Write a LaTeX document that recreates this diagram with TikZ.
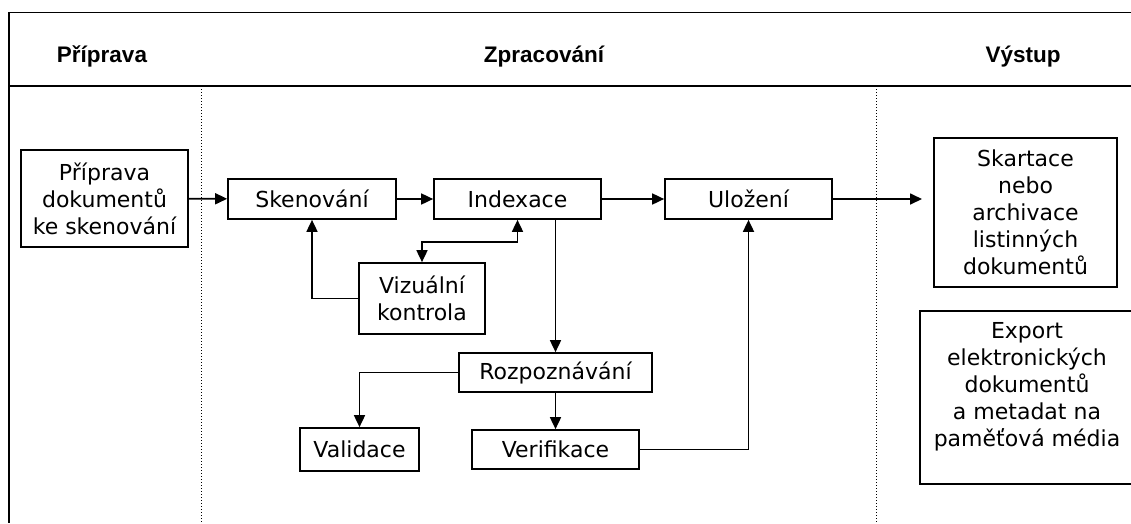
\documentclass[tikz,border=0pt]{standalone}
\usepackage{fontspec}
\usetikzlibrary{arrows.meta}
\newfontfamily\boxfont{DejaVu Sans}
\newfontfamily\headfont{Liberation Sans}

\begin{document}
\begin{tikzpicture}[x=1pt,y=-1pt,line width=1.7pt,
  blok/.style={draw,align=center,inner sep=0pt,font=\boxfont\fontsize{22}{27}\selectfont},
  hlava/.style={anchor=base,font=\headfont\bfseries\fontsize{22.5}{27}\selectfont},
  sipka/.style={-{Triangle[length=12pt,width=11pt]}},
  dvojsipka/.style={{Triangle[length=12pt,width=11pt]}-{Triangle[length=12pt,width=11pt]}}]

\useasboundingbox (0,0) rectangle (1131,523);

%ramec
\draw (1131,12.5) -- (9,12.5) -- (9,523);
\draw (9,86) -- (1131,86);
\draw[dotted,line width=1pt] (201,86) -- (201,523);
\draw[dotted,line width=1pt] (876,86) -- (876,523);

%hlavicky
\node[hlava] (hpriprava) at (102,62) {Příprava};
\node[hlava] (hzpracovani) at (544,62) {Zpracování};
\node[hlava] (hvystup) at (1023,62) {Výstup};

%Priprava
\node[blok,minimum width=167,minimum height=97] (priprava) at (104.5,198.5) {Příprava\\dokumentů\\ke skenování};

%Zpracovani
\node[blok,minimum width=168,minimum height=40] (skenovani) at (312,199) {Skenování};
\node[blok,minimum width=167,minimum height=40] (indexace) at (517.5,199) {Indexace};
\node[blok,minimum width=167,minimum height=40] (ulozeni) at (748.5,199) {Uložení};
\node[blok,minimum width=126,minimum height=71] (kontrola) at (422,298.5) {Vizuální\\kontrola};
\node[blok,minimum width=193,minimum height=39] (rozpoznavani) at (555.5,372.5) {Rozpoznávání};
\node[blok,minimum width=119,minimum height=43] (validace) at (359.5,449.5) {Validace};
\node[blok,minimum width=167,minimum height=39] (verifikace) at (555.5,449.5) {Verifikace};

%Vystup
\node[blok,minimum width=183,minimum height=149] (skartace) at (1025.5,212.5) {Skartace\\nebo\\archivace\\listinných\\dokumentů};
\node[blok,minimum width=214,inner ysep=12pt,text depth=25pt,anchor=north] (export) at (1027,310) {Export\\elektronických\\dokumentů\\a metadat na\\paměťová média};
\coordinate (vystup) at (922,199);

%sipky
\draw[sipka] (priprava) -- (skenovani);
\draw[sipka] (skenovani) -- (indexace);
\draw[sipka] (indexace) -- (ulozeni);
\draw[sipka] (ulozeni) -- (vystup);
\draw[sipka] (kontrola.west) -| (skenovani.south);
\draw[dvojsipka] (indexace.south) -- ++(0,22) -| (kontrola.north);
\draw[sipka] (indexace.south -| rozpoznavani.north) -- (rozpoznavani.north);
\draw[sipka] (rozpoznavani.west) -| (validace.north);
\draw[sipka] (rozpoznavani) -- (verifikace);
\draw[sipka] (verifikace.east) -| (ulozeni.south);

\end{tikzpicture}
\end{document}
